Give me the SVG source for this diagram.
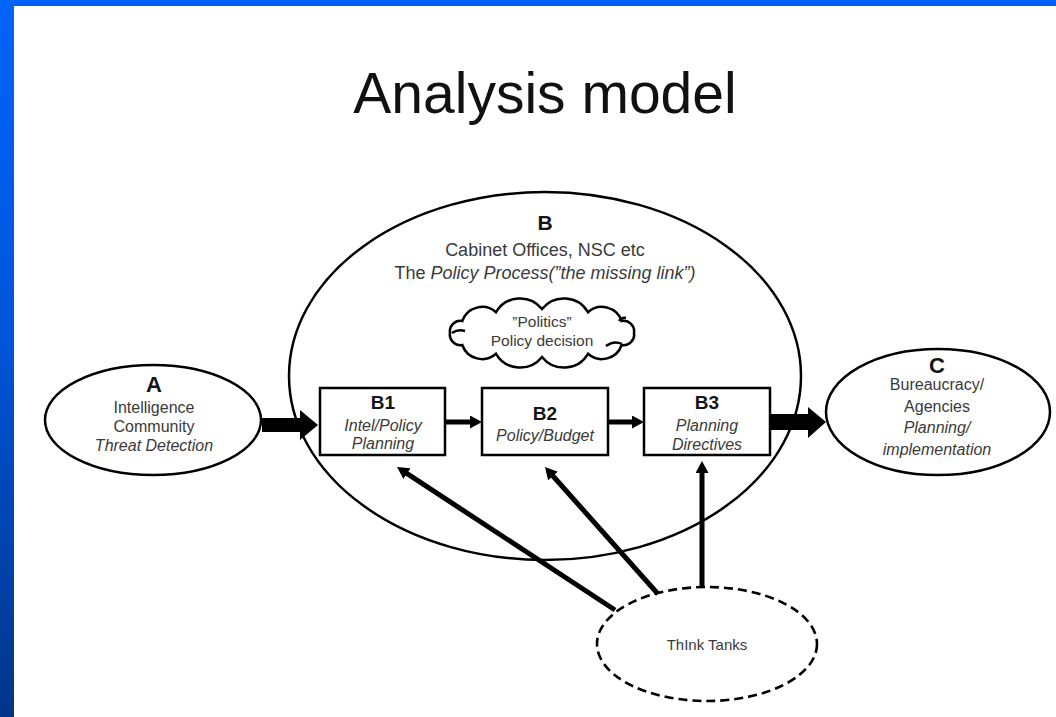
<svg xmlns="http://www.w3.org/2000/svg" width="1056" height="717" viewBox="0 0 1056 717">
  <defs>
    <linearGradient id="sideBar" x1="0" y1="0" x2="0" y2="1">
      <stop offset="0" stop-color="#0064f8"/>
      <stop offset="0.45" stop-color="#0056dc"/>
      <stop offset="1" stop-color="#00358a"/>
    </linearGradient>
    <marker id="head" markerUnits="userSpaceOnUse" markerWidth="14" markerHeight="14" refX="4" refY="6.5" orient="auto">
      <path d="M0,0 L12,6.5 L0,13 z" fill="#000"/>
    </marker>
    <style>
      .shape { fill: #fff; stroke: #000; stroke-width: 2.5; }
      .dashed { fill: none; stroke: #000; stroke-width: 2.6; stroke-dasharray: 9 5; }
      .link { fill: none; stroke: #000; stroke-width: 5; marker-end: url(#head); }
      .fat { fill: #000; }
      .t { font-family: "Liberation Sans", Arial, sans-serif; text-anchor: middle; fill: #3a3a3a; }
      .title { font-size: 57px; fill: #111; }
      .key { font-weight: bold; fill: #151515; }
      .body { font-size: 16px; }
      .mid { font-size: 18px; }
      .i { font-style: italic; }
    </style>
  </defs>

  <rect x="0" y="0" width="1056" height="717" fill="#fff"/>
  <!-- slide frame -->
  <rect x="0" y="0" width="1056" height="6" fill="#0062f4"/>
  <rect x="0" y="0" width="14" height="717" fill="url(#sideBar)"/>

  <text class="t title" x="545" y="113">Analysis model</text>

  <!-- B: policy process -->
  <g id="nodeB">
    <ellipse class="shape" cx="545" cy="376" rx="256" ry="184"/>
    <text class="t key" x="545" y="230" font-size="21">B</text>
    <text class="t mid" x="545" y="256">Cabinet Offices, NSC etc</text>
    <text class="t mid" x="545" y="279">The <tspan class="i">Policy Process(”the missing link”)</tspan></text>
  </g>

  <!-- politics cloud -->
  <g id="cloud">
    <path class="shape" d="M450,333 A10.5,10.5 0 0 1 462.3,321 A21,21 0 0 1 496,312.2 A28,28 0 0 1 542,309 A28,28 0 0 1 588,312.2 A21,21 0 0 1 621.7,321 A10.5,10.5 0 0 1 634,333 A10.5,10.5 0 0 1 621.7,345 A21,21 0 0 1 588,353.8 A28,28 0 0 1 542,357 A28,28 0 0 1 496,353.8 A21,21 0 0 1 462.3,345 A10.5,10.5 0 0 1 450,333 z"/>
    <path d="M452,333 Q458,329 465,331 M606,346 Q614,340 622,344 M619,321 Q622,317 626,318" fill="none" stroke="#000" stroke-width="2.5"/>
    <text class="t" x="542" y="327" font-size="15.5">”Politics”</text>
    <text class="t" x="542" y="346" font-size="15.5">Policy decision</text>
  </g>

  <!-- A: intelligence community -->
  <g id="nodeA">
    <ellipse class="shape" cx="153" cy="420" rx="108" ry="55"/>
    <text class="t key" x="154" y="392" font-size="22">A</text>
    <text class="t body" x="154" y="413">Intelligence</text>
    <text class="t body" x="154" y="432">Community</text>
    <text class="t body i" x="154" y="451">Threat Detection</text>
  </g>

  <!-- C: bureaucracy -->
  <g id="nodeC">
    <ellipse class="shape" cx="938" cy="412" rx="112" ry="63"/>
    <text class="t key" x="937" y="373" font-size="22">C</text>
    <text class="t body" x="937" y="390">Bureaucracy/</text>
    <text class="t body" x="937" y="412">Agencies</text>
    <text class="t body i" x="937" y="433">Planning/</text>
    <text class="t body i" x="937" y="455">implementation</text>
  </g>

  <g id="nodeB1">
    <rect class="shape" x="320" y="388" width="125" height="67"/>
    <text class="t key" x="383" y="409" font-size="19">B1</text>
    <text class="t body i" x="383" y="431">Intel/Policy</text>
    <text class="t body i" x="383" y="449">Planning</text>
  </g>

  <g id="nodeB2">
    <rect class="shape" x="482" y="388" width="126" height="67"/>
    <text class="t key" x="545" y="420" font-size="19">B2</text>
    <text class="t body i" x="545" y="441">Policy/Budget</text>
  </g>

  <g id="nodeB3">
    <rect class="shape" x="644" y="388" width="126" height="67"/>
    <text class="t key" x="707" y="409" font-size="19">B3</text>
    <text class="t body i" x="707" y="431">Planning</text>
    <text class="t body i" x="707" y="450">Directives</text>
  </g>

  <!-- think tanks -->
  <g id="nodeTT">
    <ellipse cx="707" cy="644" rx="110" ry="57" fill="#fff"/>
    <ellipse class="dashed" cx="707" cy="644" rx="110" ry="57"/>
    <text class="t" x="707" y="650" font-size="15" fill="#2a2a2a">ThInk Tanks</text>
  </g>

  <g id="connectors">
    <!-- broad flow arrows -->
    <polygon class="fat" points="262,418 300,418 300,410 318,425 300,440 300,432 262,432"/>
    <polygon class="fat" points="770,414 808,414 808,407 826,422 808,438 808,430 770,430"/>
    <!-- between stages -->
    <path class="link" d="M445,422 L474,422"/>
    <path class="link" d="M608,422 L636,422"/>
    <!-- think tank influence -->
    <path class="link" d="M615,610 L403.7,471.4"/>
    <path class="link" d="M658,594 L550.3,473"/>
    <path class="link" d="M702,588 L702,469"/>
  </g>
</svg>
